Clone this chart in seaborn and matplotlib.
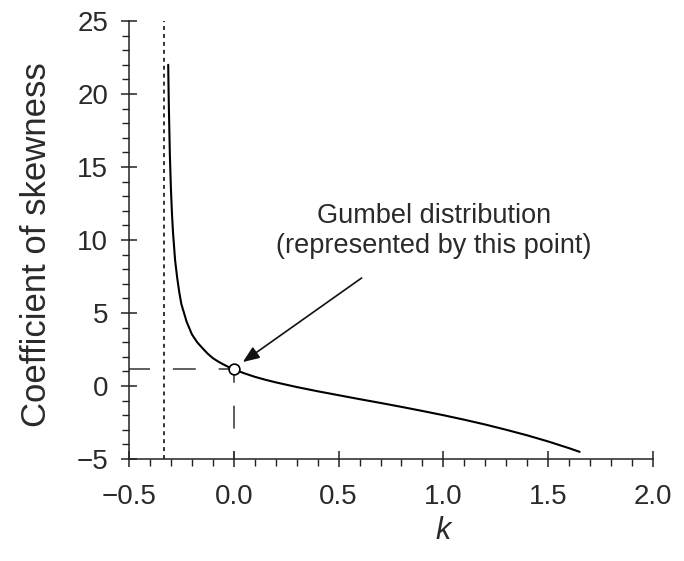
import matplotlib
matplotlib.use("Agg")
import matplotlib.pyplot as plt
from matplotlib.ticker import MultipleLocator
import seaborn as sns
import pandas as pd

# Shape parameter k and coefficient of skewness
k_values = [-0.313, -0.31, -0.305, -0.30, -0.295, -0.29, -0.28, -0.27, -0.26,
            -0.25, -0.225, -0.20, -0.175, -0.15, -0.125, -0.10, -0.075,
            -0.05, -0.025, 0.0, 0.05, 0.10, 0.15, 0.20, 0.25, 0.30, 0.40,
            0.50, 0.60, 0.70, 0.80, 0.90, 1.00, 1.10, 1.20, 1.30, 1.40,
            1.50, 1.60, 1.65]
skew_values = [22.0, 19.2, 15.8, 13.5, 11.8, 10.5, 8.6, 7.4, 6.4,
               5.6, 4.4, 3.54, 3.0, 2.6, 2.22, 1.91, 1.68,
               1.48, 1.30, 1.14, 0.87, 0.63, 0.43, 0.25, 0.09, -0.07, -0.36,
               -0.63, -0.90, -1.16, -1.43, -1.71, -2.00, -2.31, -2.64, -3.00, -3.38,
               -3.80, -4.26, -4.51]

gumbel_k = [0.0]
gumbel_skew = [1.14]
asymptote_k = -1 / 3

x_ticks = [-0.5, 0.0, 0.5, 1.0, 1.5, 2.0]
y_ticks = [-5, 0, 5, 10, 15, 20, 25]
x_label = "k"
y_label = "Coefficient of skewness"
note_text = "Gumbel distribution\n(represented by this point)"
note_pos = (0.955, 10.6)
arrow_start = (0.61, 7.4)
arrow_tip = (0.043, 1.64)

sns.set_style("ticks")
plt.rcParams["font.family"] = ["Liberation Sans", "DejaVu Sans"]

fig = plt.figure(figsize=(6.84, 5.61), dpi=100)
ax = fig.add_axes([0.1886, 0.1818, 0.9547 - 0.1886, 0.9626 - 0.1818])

df = pd.DataFrame({"k": k_values, "skew": skew_values})
sns.lineplot(data=df, x="k", y="skew", ax=ax, color="black", linewidth=1.5,
             sort=False, estimator=None)

# asymptote (dotted)
ax.plot([asymptote_k, asymptote_k], [y_ticks[0], y_ticks[-1]], color="#222222",
        linewidth=1.3, linestyle=(0, (2.2, 2.2)), clip_on=False)

# dashed guides to the Gumbel point
ax.plot([gumbel_k[0], x_ticks[0]], [gumbel_skew[0], gumbel_skew[0]], color="#333333",
        linewidth=1.1, linestyle=(5, (15, 15)))
ax.plot([gumbel_k[0], gumbel_k[0]], [gumbel_skew[0], y_ticks[0]], color="#333333",
        linewidth=1.1, linestyle=(6, (15, 15)))

gdf = pd.DataFrame({"k": gumbel_k, "skew": gumbel_skew})
sns.scatterplot(data=gdf, x="k", y="skew", ax=ax, s=60, facecolor="white",
                edgecolor="black", linewidth=1.2, zorder=5)

ax.annotate("", xy=arrow_tip, xytext=arrow_start,
            arrowprops=dict(arrowstyle="-|>,head_length=1.0,head_width=0.4",
                            color="#111111", lw=1.2, shrinkA=0, shrinkB=0))
ax.text(note_pos[0], note_pos[1], note_text, ha="center", va="center",
        fontsize=19.5, color="#2a2a2a", linespacing=1.2)

ax.set_xlim(x_ticks[0], x_ticks[-1])
ax.set_ylim(y_ticks[0], y_ticks[-1])
ax.set_xticks(x_ticks)
ax.set_xticklabels([("\u2212" if v < 0 else "") + f"{abs(v):.1f}" for v in x_ticks])
ax.set_yticks(y_ticks)
ax.set_yticklabels([("\u2212" if v < 0 else "") + f"{abs(v)}" for v in y_ticks])
ax.xaxis.set_minor_locator(MultipleLocator(0.1))
ax.yaxis.set_minor_locator(MultipleLocator(1))

ax.tick_params(which="major", direction="inout", length=12, width=1.1,
               labelsize=20, colors="#222222", labelcolor="#2a2a2a")
ax.tick_params(axis="x", which="major", pad=12)
ax.tick_params(axis="y", which="major", pad=9)
ax.tick_params(which="minor", direction="out", length=5, width=1.0, colors="#222222")

sns.despine(ax=ax)
for s in ("left", "bottom"):
    ax.spines[s].set_linewidth(1.1)
    ax.spines[s].set_color("#222222")

ax.set_xlabel(x_label, fontsize=22, style="italic", color="#2a2a2a")
ax.xaxis.set_label_coords(0.6, -0.13)
ax.set_ylabel(y_label, fontsize=25, color="#2a2a2a")
ax.yaxis.set_label_coords(-0.145, 0.49)

fig.savefig("out.png", dpi=100)
